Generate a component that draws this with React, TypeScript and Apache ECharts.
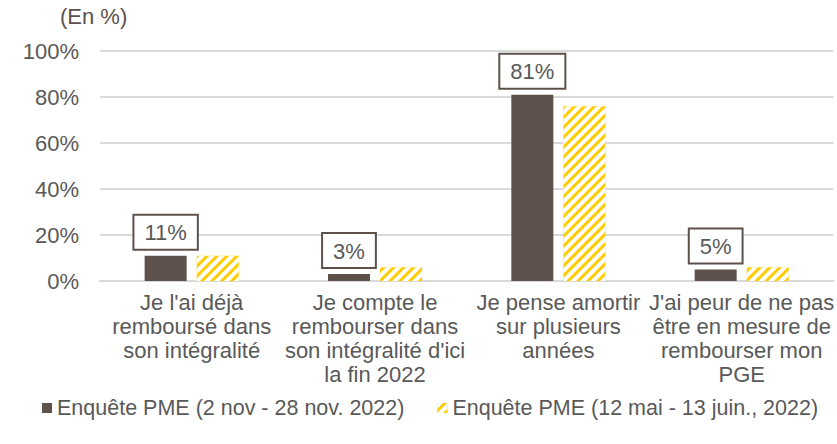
import React, { useEffect, useRef } from "react";
import * as echarts from "echarts";

const categories = [
  "Je l'ai déjà\nremboursé dans\nson intégralité",
  "Je compte le\nrembourser dans\nson intégralité d'ici\nla fin 2022",
  "Je pense amortir\nsur plusieurs\nannées",
  "J'ai peur de ne pas\nêtre en mesure de\nrembourser mon\nPGE",
];
const seriesNov = [11, 3, 81, 5];
const seriesMai = [11, 6, 76, 6];
const seriesNames = [
  "Enquête PME (2 nov - 28 nov. 2022)",
  "Enquête PME (12 mai - 13 juin., 2022)",
];
const yTicks = [0, 20, 40, 60, 80, 100];

const FONT = "'Liberation Sans', Arial, sans-serif";
const DARK = "#5e514c";
const TEXT = "#595959";
const FS = 22;

export default function App() {
  const ref = useRef<HTMLDivElement>(null);
  useEffect(() => {
    if (!ref.current) return;
    const chart = echarts.init(ref.current, undefined, { renderer: "svg" });
    chart.setOption({
      animation: false,
      backgroundColor: "#ffffff",
      textStyle: { fontFamily: FONT },
      graphic: [
        {
          type: "text",
          left: 60,
          top: 5,
          style: { text: "(En %)", fontSize: FS, fontFamily: FONT, fill: "#5e514c" },
        },
      ],
      grid: { left: 100, right: 1, top: 51, bottom: 163, containLabel: false },
      legend: {
        left: 42,
        top: 397,
        width: 795,
        padding: 0,
        itemWidth: 10,
        itemHeight: 10,
        itemGap: 33,
        icon: "rect",
        textStyle: { fontSize: 21.5, color: TEXT, fontFamily: FONT },
        data: seriesNames,
      },
      xAxis: {
        type: "category",
        data: categories,
        axisLine: { show: true, lineStyle: { color: "#d9d9d9", width: 2 } },
        axisTick: { show: false },
        axisLabel: {
          interval: 0,
          fontSize: FS,
          lineHeight: 24,
          color: TEXT,
          margin: 9,
          fontFamily: FONT,
        },
      },
      yAxis: {
        type: "value",
        min: yTicks[0],
        max: yTicks[yTicks.length - 1],
        interval: 20,
        axisLine: { show: false },
        axisTick: { show: false },
        splitLine: { lineStyle: { color: "#d9d9d9", width: 2 } },
        axisLabel: {
          formatter: "{value}%",
          fontSize: FS,
          color: TEXT,
          margin: 21,
          fontFamily: FONT,
        },
      },
      series: [
        {
          name: seriesNames[0],
          type: "bar",
          data: seriesNov,
          barWidth: 42,
          barGap: "24%",
          itemStyle: { color: DARK },
          label: {
            show: true,
            position: "top",
            distance: 7,
            formatter: "{c}%",
            fontSize: FS,
            color: TEXT,
            fontFamily: FONT,
            backgroundColor: "#ffffff",
            borderColor: DARK,
            borderWidth: 2,
            padding: [6, 10, 5, 10],
          },
        },
        {
          name: seriesNames[1],
          type: "bar",
          data: seriesMai,
          barWidth: 42,
          itemStyle: {
            color: "#ffcc00",
            decal: {
              symbol: "rect",
              symbolSize: 1,
              dashArrayX: [1, 0],
              dashArrayY: [4, 3],
              rotation: -Math.PI / 4,
              color: "#ffffff",
            },
          },
        },
      ],
    });
    return () => chart.dispose();
  }, []);
  return (
    <div
      ref={ref}
      style={{ position: "absolute", left: 0, top: 0, width: 837, height: 444 }}
    />
  );
}
